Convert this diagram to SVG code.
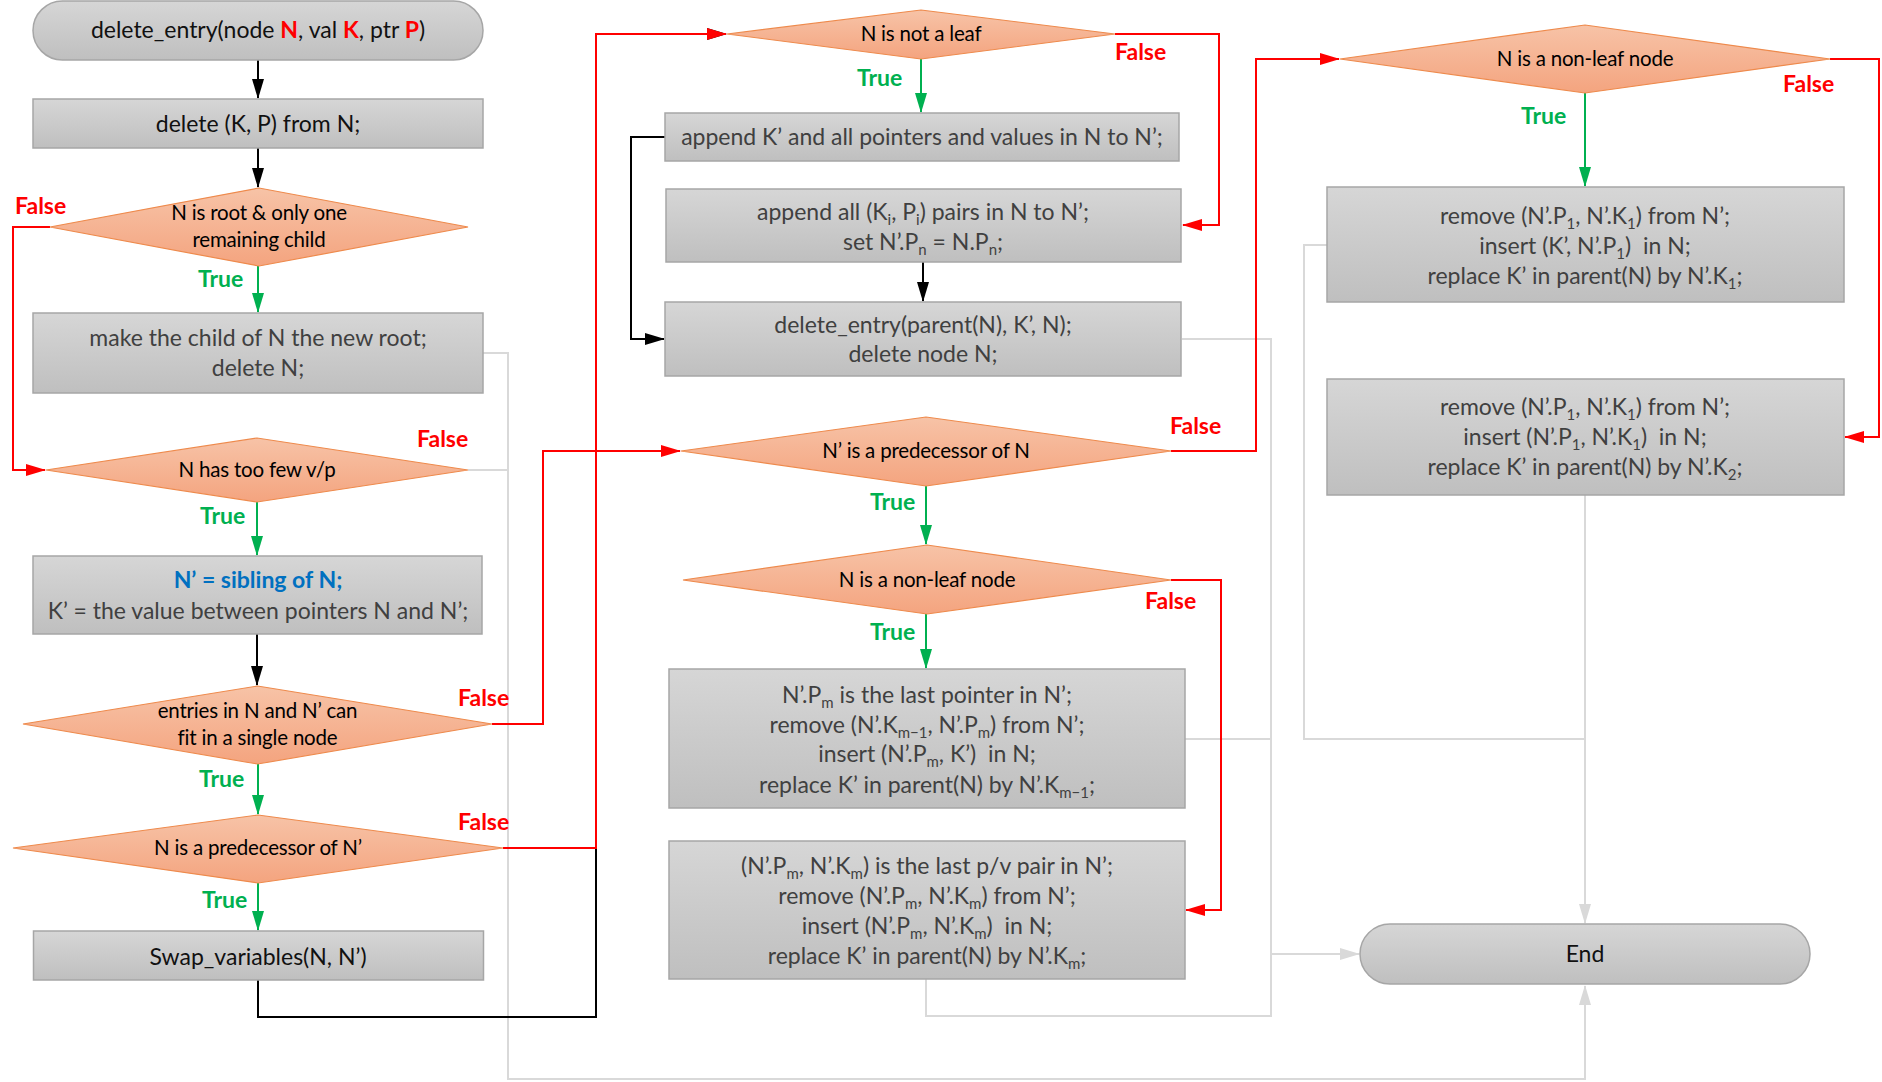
<svg xmlns="http://www.w3.org/2000/svg" width="1882" height="1082" viewBox="0 0 1882 1082">
  <defs>
    <linearGradient id="gBox" x1="0" y1="0" x2="0" y2="1">
      <stop offset="0" stop-color="#d6d6d6"/>
      <stop offset="1" stop-color="#bfbfbf"/>
    </linearGradient>
    <linearGradient id="gDia" x1="0" y1="0" x2="0" y2="1">
      <stop offset="0" stop-color="#f7c3a7"/>
      <stop offset="1" stop-color="#f4a47f"/>
    </linearGradient>
    <marker id="aBlack" markerUnits="userSpaceOnUse" markerWidth="20" markerHeight="12" refX="19" refY="6" orient="auto">
      <path d="M0,0 L20,6 L0,12 z" fill="#000"/>
    </marker>
    <marker id="aGreen" markerUnits="userSpaceOnUse" markerWidth="20" markerHeight="12" refX="19" refY="6" orient="auto">
      <path d="M0,0 L20,6 L0,12 z" fill="#00b050"/>
    </marker>
    <marker id="aRed" markerUnits="userSpaceOnUse" markerWidth="20" markerHeight="12" refX="19" refY="6" orient="auto">
      <path d="M0,0 L20,6 L0,12 z" fill="#ff0000"/>
    </marker>
    <marker id="aGray" markerUnits="userSpaceOnUse" markerWidth="20" markerHeight="12" refX="19" refY="6" orient="auto">
      <path d="M0,0 L20,6 L0,12 z" fill="#d9d9d9"/>
    </marker>
  </defs>
  <style>
    .box { fill: url(#gBox); stroke: #a6a6a6; stroke-width: 1.5; }
    .dia { fill: url(#gDia); stroke: #ee8a4c; stroke-width: 1.2; }
    text { font-family: Lato, "Liberation Sans", sans-serif; }
    .t { font-size: 23px; fill: #404040; text-anchor: middle; white-space: pre; }
    .tk { font-size: 23px; fill: #111; text-anchor: middle; white-space: pre; }
    .d { font-size: 20.5px; fill: #000; text-anchor: middle; letter-spacing: -0.2px; }
    .sub { font-size: 15px; }
    .red { fill: #ff0000; font-weight: bold; }
    .blue { fill: #0070c0; font-weight: bold; }
    .lt { font-size: 23px; font-weight: bold; fill: #00b050; }
    .lf { font-size: 23px; font-weight: bold; fill: #ff0000; }
    .c { fill: none; stroke-width: 2; }
    .cb { stroke: #000; }
    .cg { stroke: #00b050; }
    .cr { stroke: #ff0000; }
    .cy { stroke: #d9d9d9; }
  </style>

  <!-- connectors -->
  <g id="connectors" class="c">
    <!-- pale routes into End -->
    <path class="cy" d="M483,353 H508 V1079 H1585 V986" marker-end="url(#aGray)"/>
    <path class="cy" d="M468,470 H508"/>
    <path class="cy" d="M1182,339 H1271 V954 H1359" marker-end="url(#aGray)"/>
    <path class="cy" d="M1185,739 H1271"/>
    <path class="cy" d="M926,979 V1016 H1271 V954"/>
    <path class="cy" d="M1327,245 H1304 V739 H1585"/>
    <path class="cy" d="M1585,495 V923" marker-end="url(#aGray)"/>

    <!-- plain flow -->
    <path class="cb" d="M258,60 V98" marker-end="url(#aBlack)"/>
    <path class="cb" d="M258,148 V187" marker-end="url(#aBlack)"/>
    <path class="cb" d="M257,634 V685" marker-end="url(#aBlack)"/>
    <path class="cb" d="M258,980 V1017 H596 V34 H726" marker-end="url(#aBlack)"/>
    <path class="cb" d="M665,137 H631 V339 H664" marker-end="url(#aBlack)"/>
    <path class="cb" d="M923,262 V301" marker-end="url(#aBlack)"/>

    <!-- true branches -->
    <path class="cg" d="M258,266 V312" marker-end="url(#aGreen)"/>
    <path class="cg" d="M257,502 V555" marker-end="url(#aGreen)"/>
    <path class="cg" d="M258,764 V814" marker-end="url(#aGreen)"/>
    <path class="cg" d="M258,883 V930" marker-end="url(#aGreen)"/>
    <path class="cg" d="M921,59 V112" marker-end="url(#aGreen)"/>
    <path class="cg" d="M926,486 V544" marker-end="url(#aGreen)"/>
    <path class="cg" d="M926,614 V668" marker-end="url(#aGreen)"/>
    <path class="cg" d="M1585,93 V186" marker-end="url(#aGreen)"/>

    <!-- false branches -->
    <path class="cr" d="M50,227 H13 V470 H45" marker-end="url(#aRed)"/>
    <path class="cr" d="M492,724 H543 V451 H680" marker-end="url(#aRed)"/>
    <path class="cr" d="M503,848 H596 V34 H726" marker-end="url(#aRed)"/>
    <path class="cr" d="M1115,34 H1219 V225 H1183" marker-end="url(#aRed)"/>
    <path class="cr" d="M1171,451 H1256 V59 H1339" marker-end="url(#aRed)"/>
    <path class="cr" d="M1171,580 H1221 V910 H1186" marker-end="url(#aRed)"/>
    <path class="cr" d="M1830,59 H1879 V437 H1845" marker-end="url(#aRed)"/>
  </g>

  <!-- branch labels -->
  <g id="labels">
    <text class="lf" x="15" y="214">False</text>
    <text class="lt" x="198" y="287">True</text>
    <text class="lf" x="417" y="447">False</text>
    <text class="lt" x="200" y="524">True</text>
    <text class="lf" x="458" y="706">False</text>
    <text class="lt" x="199" y="787">True</text>
    <text class="lf" x="458" y="830">False</text>
    <text class="lt" x="202" y="908">True</text>
    <text class="lf" x="1115" y="60">False</text>
    <text class="lt" x="857" y="86">True</text>
    <text class="lf" x="1170" y="434">False</text>
    <text class="lt" x="870" y="510">True</text>
    <text class="lf" x="1145" y="609">False</text>
    <text class="lt" x="870" y="640">True</text>
    <text class="lf" x="1783" y="92">False</text>
    <text class="lt" x="1521" y="124">True</text>
  </g>

  <!-- left column -->
  <g id="start">
    <rect class="box" x="33" y="1" width="450" height="59" rx="29.5"/>
    <text class="tk" x="258" y="38">delete_entry(node <tspan class="red">N</tspan>, val <tspan class="red">K</tspan>, ptr <tspan class="red">P</tspan>)</text>
  </g>
  <g id="delete-kp">
    <rect class="box" x="33" y="99" width="450" height="49"/>
    <text class="tk" x="258" y="132">delete (K, P) from N;</text>
  </g>
  <g id="is-root">
    <polygon class="dia" points="50,227 259,188 468,227 259,266"/>
    <text class="d" x="259" y="219.5">N is root &amp; only one</text>
    <text class="d" x="259" y="246.5">remaining child</text>
  </g>
  <g id="new-root">
    <rect class="box" x="33" y="313" width="450" height="80"/>
    <text class="t" x="258" y="346">make the child of N the new root;</text>
    <text class="t" x="258" y="376">delete N;</text>
  </g>
  <g id="too-few">
    <polygon class="dia" points="46,470 257,438 468,470 257,502"/>
    <text class="d" x="257" y="477">N has too few v/p</text>
  </g>
  <g id="sibling">
    <rect class="box" x="33" y="556" width="449" height="78"/>
    <text class="t" x="258" y="588"><tspan class="blue">N’ = sibling of N;</tspan></text>
    <text class="t" x="258" y="618.5">K’ = the value between pointers N and N’;</text>
  </g>
  <g id="fit-single">
    <polygon class="dia" points="23,724 257.5,686 492,724 257.5,764"/>
    <text class="d" x="257.5" y="718">entries in N and N’ can</text>
    <text class="d" x="257.5" y="745">fit in a single node</text>
  </g>
  <g id="n-pred">
    <polygon class="dia" points="13,848 258,815 503,848 258,883"/>
    <text class="d" x="258" y="855">N is a predecessor of N’</text>
  </g>
  <g id="swap">
    <rect class="box" x="33.5" y="931" width="450" height="49"/>
    <text class="tk" x="258" y="964.5">Swap_variables(N, N’)</text>
  </g>

  <!-- middle column -->
  <g id="not-leaf">
    <polygon class="dia" points="727,34 921,10 1115,34 921,59"/>
    <text class="d" x="921" y="41">N is not a leaf</text>
  </g>
  <g id="append-k">
    <rect class="box" x="665" y="113" width="514" height="48"/>
    <text class="t" x="922" y="145">append K’ and all pointers and values in N to N’;</text>
  </g>
  <g id="append-pairs">
    <rect class="box" x="666" y="189" width="515" height="73"/>
    <text class="t" x="923" y="220">append all (K<tspan class="sub" dy="5">i</tspan><tspan dy="-5">, P</tspan><tspan class="sub" dy="5">i</tspan><tspan dy="-5">) pairs in N to N’;</tspan></text>
    <text class="t" x="923" y="249.5">set N’.P<tspan class="sub" dy="5">n</tspan><tspan dy="-5"> = N.P</tspan><tspan class="sub" dy="5">n</tspan><tspan dy="-5">;</tspan></text>
  </g>
  <g id="recurse">
    <rect class="box" x="665" y="302" width="516" height="74"/>
    <text class="t" x="923" y="333">delete_entry(parent(N), K’, N);</text>
    <text class="t" x="923" y="362">delete node N;</text>
  </g>
  <g id="np-pred">
    <polygon class="dia" points="681,451 926,417 1171,451 926,486"/>
    <text class="d" x="926" y="458">N’ is a predecessor of N</text>
  </g>
  <g id="non-leaf-a">
    <polygon class="dia" points="683,580 927,545 1171,580 927,614"/>
    <text class="d" x="927" y="587">N is a non-leaf node</text>
  </g>
  <g id="borrow-last-ptr">
    <rect class="box" x="669" y="669" width="516" height="139"/>
    <text class="t" x="927" y="703">N’.P<tspan class="sub" dy="5">m</tspan><tspan dy="-5"> is the last pointer in N’;</tspan></text>
    <text class="t" x="927" y="733">remove (N’.K<tspan class="sub" dy="5">m−1</tspan><tspan dy="-5">, N’.P</tspan><tspan class="sub" dy="5">m</tspan><tspan dy="-5">) from N’;</tspan></text>
    <text class="t" x="927" y="762">insert (N’.P<tspan class="sub" dy="5">m</tspan><tspan dy="-5">, K’)  in N;</tspan></text>
    <text class="t" x="927" y="793">replace K’ in parent(N) by N’.K<tspan class="sub" dy="5">m−1</tspan><tspan dy="-5">;</tspan></text>
  </g>
  <g id="borrow-last-pair">
    <rect class="box" x="669" y="841" width="516" height="138"/>
    <text class="t" x="927" y="874">(N’.P<tspan class="sub" dy="5">m</tspan><tspan dy="-5">, N’.K</tspan><tspan class="sub" dy="5">m</tspan><tspan dy="-5">) is the last p/v pair in N’;</tspan></text>
    <text class="t" x="927" y="904">remove (N’.P<tspan class="sub" dy="5">m</tspan><tspan dy="-5">, N’.K</tspan><tspan class="sub" dy="5">m</tspan><tspan dy="-5">) from N’;</tspan></text>
    <text class="t" x="927" y="933.5">insert (N’.P<tspan class="sub" dy="5">m</tspan><tspan dy="-5">, N’.K</tspan><tspan class="sub" dy="5">m</tspan><tspan dy="-5">)  in N;</tspan></text>
    <text class="t" x="927" y="963.5">replace K’ in parent(N) by N’.K<tspan class="sub" dy="5">m</tspan><tspan dy="-5">;</tspan></text>
  </g>

  <!-- right column -->
  <g id="non-leaf-b">
    <polygon class="dia" points="1340,59 1585,25 1830,59 1585,93"/>
    <text class="d" x="1585" y="66">N is a non-leaf node</text>
  </g>
  <g id="borrow-first-ptr">
    <rect class="box" x="1327" y="187" width="517" height="115"/>
    <text class="t" x="1585" y="224">remove (N’.P<tspan class="sub" dy="5">1</tspan><tspan dy="-5">, N’.K</tspan><tspan class="sub" dy="5">1</tspan><tspan dy="-5">) from N’;</tspan></text>
    <text class="t" x="1585" y="254">insert (K’, N’.P<tspan class="sub" dy="5">1</tspan><tspan dy="-5">)  in N;</tspan></text>
    <text class="t" x="1585" y="284">replace K’ in parent(N) by N’.K<tspan class="sub" dy="5">1</tspan><tspan dy="-5">;</tspan></text>
  </g>
  <g id="borrow-first-pair">
    <rect class="box" x="1327" y="379" width="517" height="116"/>
    <text class="t" x="1585" y="415">remove (N’.P<tspan class="sub" dy="5">1</tspan><tspan dy="-5">, N’.K</tspan><tspan class="sub" dy="5">1</tspan><tspan dy="-5">) from N’;</tspan></text>
    <text class="t" x="1585" y="445">insert (N’.P<tspan class="sub" dy="5">1</tspan><tspan dy="-5">, N’.K</tspan><tspan class="sub" dy="5">1</tspan><tspan dy="-5">)  in N;</tspan></text>
    <text class="t" x="1585" y="475">replace K’ in parent(N) by N’.K<tspan class="sub" dy="5">2</tspan><tspan dy="-5">;</tspan></text>
  </g>
  <g id="end">
    <rect class="box" x="1360" y="924" width="450" height="60" rx="30"/>
    <text class="tk" x="1585" y="962">End</text>
  </g>
</svg>
